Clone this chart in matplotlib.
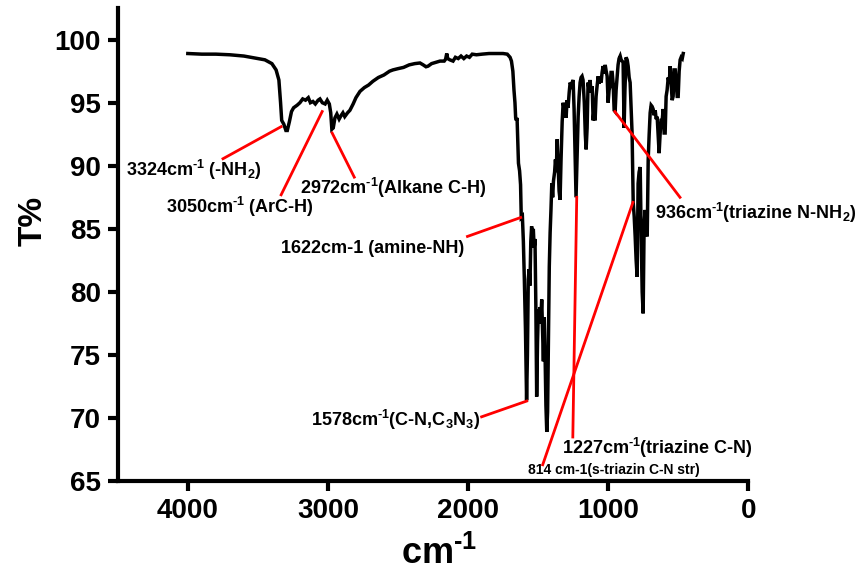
import matplotlib
matplotlib.use("Agg")
import matplotlib.pyplot as plt

plt.rcParams['font.family'] = ['Liberation Sans', 'DejaVu Sans']
plt.rcParams['font.weight'] = 'bold'
plt.rcParams['mathtext.fontset'] = 'custom'
plt.rcParams['mathtext.rm'] = 'Liberation Sans:bold'
plt.rcParams['mathtext.it'] = 'Liberation Sans:bold'
plt.rcParams['mathtext.bf'] = 'Liberation Sans:bold'
plt.rcParams['mathtext.default'] = 'rm'

wavenumber = [4000, 3900, 3800, 3700, 3600, 3500, 3450, 3400, 3370, 3350, 3338, 3330, 3315, 3300, 3290,
              3275, 3260, 3245, 3220, 3200, 3180, 3160, 3140, 3125, 3107, 3090, 3070, 3057, 3040, 3020,
              3005, 2990, 2980, 2972, 2962, 2950, 2936, 2920, 2905, 2893, 2880, 2860, 2843, 2820, 2800,
              2771, 2740, 2710, 2679, 2640, 2600, 2560, 2536, 2500, 2460, 2420, 2380, 2343, 2320, 2300,
              2285, 2260, 2230, 2200, 2170, 2160, 2152, 2145, 2130, 2107, 2090, 2070, 2050, 2030, 2010,
              1990, 1970, 1940, 1900, 1850, 1800, 1750, 1720, 1700, 1690, 1680, 1672, 1665, 1660, 1655,
              1650, 1645, 1640, 1632, 1625, 1620, 1612, 1605, 1598, 1590, 1582, 1576, 1570, 1564, 1558,
              1552, 1546, 1540, 1534, 1528, 1522, 1516, 1510, 1504, 1498, 1492, 1486, 1480, 1474, 1468,
              1462, 1456, 1450, 1444, 1438, 1432, 1426, 1420, 1414, 1408, 1402, 1396, 1390, 1382, 1376,
              1370, 1364, 1357, 1350, 1343, 1336, 1328, 1321, 1314, 1307, 1300, 1293, 1286, 1278, 1271,
              1264, 1257, 1250, 1243, 1236, 1229, 1222, 1214, 1207, 1200, 1193, 1186, 1179, 1170, 1163,
              1157, 1150, 1143, 1136, 1129, 1122, 1114, 1107, 1100, 1093, 1086, 1079, 1071, 1064, 1057,
              1050, 1043, 1036, 1029, 1021, 1014, 1007, 1000, 993, 986, 979, 971, 964, 957, 950,
              943, 936, 929, 922, 914, 907, 900, 893, 886, 880, 872, 864, 857, 850, 843,
              836, 829, 821, 814, 807, 800, 793, 786, 779, 771, 764, 757, 750, 743, 736,
              729, 721, 714, 707, 700, 693, 686, 679, 672, 664, 657, 650, 643, 636, 629,
              622, 614, 607, 600, 593, 586, 579, 571, 564, 557, 550, 543, 536, 529, 521,
              514, 507, 500, 493, 486, 479, 471, 464]
transmittance = [98.9, 98.85, 98.85, 98.8, 98.7, 98.5, 98.4, 98.1, 97.6, 96.8, 95.0, 93.6, 93.3, 92.8, 92.8,
                 93.5, 94.3, 94.6, 94.8, 95.0, 95.3, 95.2, 95.4, 95.0, 95.1, 94.9, 95.2, 95.3, 95.0, 94.9,
                 95.2, 94.9, 94.2, 92.9, 93.0, 93.8, 94.1, 93.7, 94.0, 94.2, 93.9, 94.2, 94.4, 94.9, 95.4,
                 95.9, 96.2, 96.4, 96.7, 97.0, 97.2, 97.5, 97.6, 97.7, 97.8, 98.0, 98.1, 98.15, 98.0, 97.85,
                 97.9, 98.1, 98.2, 98.3, 98.3, 98.45, 98.9, 98.5, 98.4, 98.3, 98.6, 98.5, 98.7, 98.5, 98.7,
                 98.6, 98.85, 98.8, 98.85, 98.9, 98.9, 98.9, 98.85, 98.6, 98.3, 97.5, 96.0, 95.0, 93.8, 93.6,
                 93.8, 92.0, 90.2, 89.6, 88.5, 85.9, 86.0, 84.0, 81.0, 77.0, 71.4, 75.0, 81.0, 81.8, 80.5,
                 84.0, 85.2, 84.0, 85.0, 83.5, 84.2, 79.0, 71.7, 76.0, 78.6, 77.5, 78.8, 78.0, 79.4, 77.0,
                 74.5, 78.0, 75.0, 71.0, 68.9, 70.5, 76.0, 82.0, 84.7, 86.5, 88.6, 87.5, 88.8, 89.5, 90.5,
                 89.5, 92.1, 90.0, 88.0, 87.3, 90.5, 93.5, 95.0, 94.5, 94.7, 93.8, 95.2, 94.6, 95.8, 96.6,
                 96.4, 96.6, 96.8, 94.5, 91.0, 87.5, 90.5, 93.9, 95.5, 96.6, 97.0, 97.1, 96.8, 95.0, 92.5,
                 91.3, 93.0, 96.6, 96.0, 96.8, 95.8, 96.3, 93.6, 94.5, 93.6, 95.5, 96.3, 97.1, 96.5, 97.1,
                 96.6, 97.4, 97.9, 97.3, 98.0, 97.5, 97.1, 95.0, 96.0, 96.3, 97.4, 97.4, 96.5, 94.4, 94.3,
                 96.0, 97.0, 98.0, 98.5, 98.7, 98.4, 98.3, 98.2, 93.0, 96.0, 98.6, 98.4, 97.9, 97.0, 96.6,
                 94.5, 92.6, 87.1, 86.0, 84.4, 82.5, 81.2, 88.6, 89.5, 89.9, 84.4, 80.0, 78.3, 85.4, 86.5,
                 85.0, 84.4, 90.5, 92.5, 94.2, 94.8, 94.7, 94.5, 94.0, 94.4, 93.7, 93.9, 92.5, 91.0, 92.5,
                 93.6, 93.6, 94.5, 92.6, 92.6, 95.5, 96.0, 97.0, 96.5, 97.9, 96.5, 95.2, 95.5, 97.6, 97.6,
                 96.5, 95.5, 95.5, 97.5, 98.4, 98.6, 98.5, 98.9]

x_ticks = [4000, 3000, 2000, 1000, 0]
y_ticks = [65, 70, 75, 80, 85, 90, 95, 100]

# annotation texts with (text x, text y), line start, line end, font size
labels = [
    (r"3324cm$^{\text{-1}}$ (-NH$_2$)", (4444, 89.2), (3749, 90.56), (3334, 93.1), 13),
    (r"3050cm$^{\text{-1}}$ (ArC-H)", (4157, 86.27), (3334, 87.7), (3041, 94.3), 13),
    (r"2972cm$^{\text{-1}}$(Alkane C-H)", (3199, 87.78), (2970, 92.6), (2812, 89.1), 13),
    ("1622cm-1 (amine-NH)", (3335, 83.1), (2004, 84.4), (1624, 85.9), 13),
    (r"1578cm$^{\text{-1}}$(C-N,C$_3$N$_3$)", (3120, 69.4), (1903, 70.1), (1581, 71.35), 13),
    (r"1227cm$^{\text{-1}}$(triazine C-N)", (1331, 67.14), (1224, 87.5), (1252, 68.5), 13),
    ("814 cm-1(s-triazin C-N str)", (1574, 65.56), (1467, 66.3), (823, 87.1), 10),
    (r"936cm$^{\text{-1}}$(triazine N-NH$_2$)", (665, 85.8), (952, 94.3), (487, 87.5), 13),
]

fig = plt.figure(figsize=(8.66, 5.79), dpi=100)
ax = fig.add_axes([0.136, 0.169, 0.728, 0.817])

ax.plot(wavenumber, transmittance, color='black', lw=2.5, solid_joinstyle='miter')

for text, tpos, p1, p2, fs in labels:
    ax.plot([p1[0], p2[0]], [p1[1], p2[1]], color='red', lw=2.0, clip_on=False)
    ax.text(tpos[0], tpos[1], text, fontsize=fs, fontweight='bold', ha='left', va='baseline')

ax.set_xlim(4500, 0)
ax.set_ylim(65, 102.5)
ax.set_xticks(x_ticks)
ax.set_yticks(y_ticks)
ax.tick_params(axis='both', direction='out', length=7, width=3, labelsize=20, pad=5)
for lab in ax.get_xticklabels() + ax.get_yticklabels():
    lab.set_fontweight('bold')
for s in ['top', 'right']:
    ax.spines[s].set_visible(False)
for s in ['left', 'bottom']:
    ax.spines[s].set_linewidth(3)

ax.set_ylabel('T%', fontsize=24, fontweight='bold')
ax.yaxis.set_label_coords(-0.11, 0.55)
ax.set_xlabel(r'cm$^{\text{-1}}$', fontsize=26, fontweight='bold')
ax.xaxis.set_label_coords(0.51, -0.115)

fig.savefig('out.png', dpi=100)
